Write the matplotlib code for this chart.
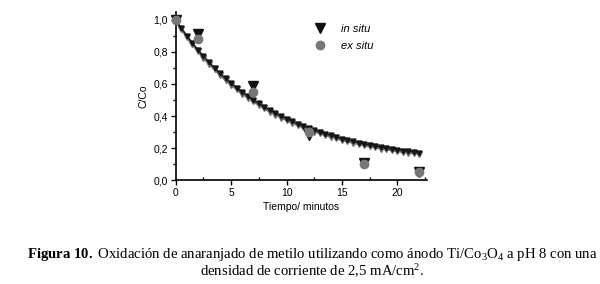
import numpy as np
import matplotlib
matplotlib.use("Agg")
import matplotlib.pyplot as plt
from matplotlib.ticker import FuncFormatter, MultipleLocator

plt.rcParams['font.family'] = ['Liberation Sans', 'DejaVu Sans']
plt.rcParams['mathtext.fontset'] = 'custom'
plt.rcParams['mathtext.rm'] = 'Liberation Serif'
plt.rcParams['mathtext.bf'] = 'Liberation Serif:bold'
plt.rcParams['mathtext.it'] = 'Liberation Serif:italic'

# puntos experimentales
t_exp = [0, 2, 7, 12, 17, 22]
in_situ = [1.00, 0.91, 0.59, 0.28, 0.105, 0.05]
ex_situ = [1.00, 0.88, 0.55, 0.30, 0.10, 0.05]

# curvas de ajuste
t_fit = [0, 0.5, 1, 1.5, 2, 2.5, 3, 3.5, 4, 4.5, 5, 5.5, 6, 6.5, 7, 7.5, 8, 8.5,
         9, 9.5, 10, 10.5, 11, 11.5, 12, 12.5, 13, 13.5, 14, 14.5, 15, 15.5,
         16, 16.5, 17, 17.5, 18, 18.5, 19, 19.5, 20, 20.5, 21, 21.5, 22]
fit_in = [1.000, 0.950, 0.902, 0.857, 0.814, 0.774, 0.736, 0.701, 0.667, 0.635,
          0.605, 0.577, 0.550, 0.525, 0.501, 0.479, 0.457, 0.437, 0.418, 0.400,
          0.384, 0.368, 0.353, 0.338, 0.325, 0.312, 0.301, 0.289, 0.279, 0.269,
          0.259, 0.250, 0.242, 0.234, 0.226, 0.219, 0.213, 0.206, 0.200, 0.195,
          0.189, 0.184, 0.180, 0.175, 0.171]
fit_ex = [0.995, 0.942, 0.893, 0.847, 0.804, 0.764, 0.726, 0.691, 0.657, 0.625,
          0.595, 0.567, 0.540, 0.515, 0.491, 0.469, 0.447, 0.427, 0.408, 0.390,
          0.374, 0.358, 0.343, 0.329, 0.316, 0.303, 0.292, 0.280, 0.270, 0.260,
          0.250, 0.241, 0.233, 0.225, 0.217, 0.210, 0.204, 0.197, 0.191, 0.186,
          0.180, 0.175, 0.171, 0.166, 0.162]

fig = plt.figure(figsize=(6, 2.84), dpi=100)
ax = fig.add_axes([0.293, 0.366, 0.419, 0.592])

ax.plot(t_fit, fit_ex, '-v', color='#6e6e6e', lw=1.6, markersize=3.8,
        clip_on=False, zorder=2)
ax.plot(t_fit, fit_in, '-v', color='#151515', lw=1.0, markersize=3.5,
        clip_on=False, zorder=3)
ax.plot(t_exp, in_situ, 'v', color='#111111', markersize=6.8, clip_on=False,
        zorder=4, label='in situ')
ax.plot(t_exp, ex_situ, 'o', color='#777777', markersize=6, clip_on=False,
        zorder=5, label='ex situ')

ax.set_xlim(0, 22.7)
ax.set_ylim(0, 1.05)
ax.spines['top'].set_visible(False)
ax.spines['right'].set_visible(False)
ax.spines['left'].set_linewidth(1.2)
ax.spines['bottom'].set_linewidth(1.2)

ax.xaxis.set_major_locator(MultipleLocator(5))
ax.xaxis.set_minor_locator(MultipleLocator(2.5))
ax.yaxis.set_major_locator(MultipleLocator(0.2))
ax.yaxis.set_minor_locator(MultipleLocator(0.1))
ax.yaxis.set_major_formatter(FuncFormatter(lambda v, p: f"{v:.1f}".replace('.', ',')))
ax.tick_params(which='major', length=3.5, width=1, labelsize=7.5, pad=2)
ax.tick_params(which='minor', length=2, width=1)
ax.tick_params(axis='x', which='minor', direction='in')

ax.set_xlabel('Tiempo/ minutos', fontsize=7.5, labelpad=3)
ax.set_ylabel('C/Co', fontsize=7.5, labelpad=4)

ax.legend(loc='upper left', bbox_to_anchor=(0.53, 0.96), frameon=False,
          prop={'style': 'italic', 'size': 8}, handlelength=1.0,
          handletextpad=1.4, labelspacing=0.6, borderpad=0)

fig.text(0.52, 0.105,
         r"$\mathbf{Figura}$ $\mathbf{10.}$ Oxidación de anaranjado de metilo utilizando como ánodo "
         r"Ti/Co$_3$O$_4$ a pH 8 con una",
         ha='center', va='center', fontsize=10.6, family='Liberation Serif')
fig.text(0.52, 0.045, r"densidad de corriente de 2,5 mA/cm$^2$.",
         ha='center', va='center', fontsize=10.6, family='Liberation Serif')

fig.savefig('out.png', dpi=100)
